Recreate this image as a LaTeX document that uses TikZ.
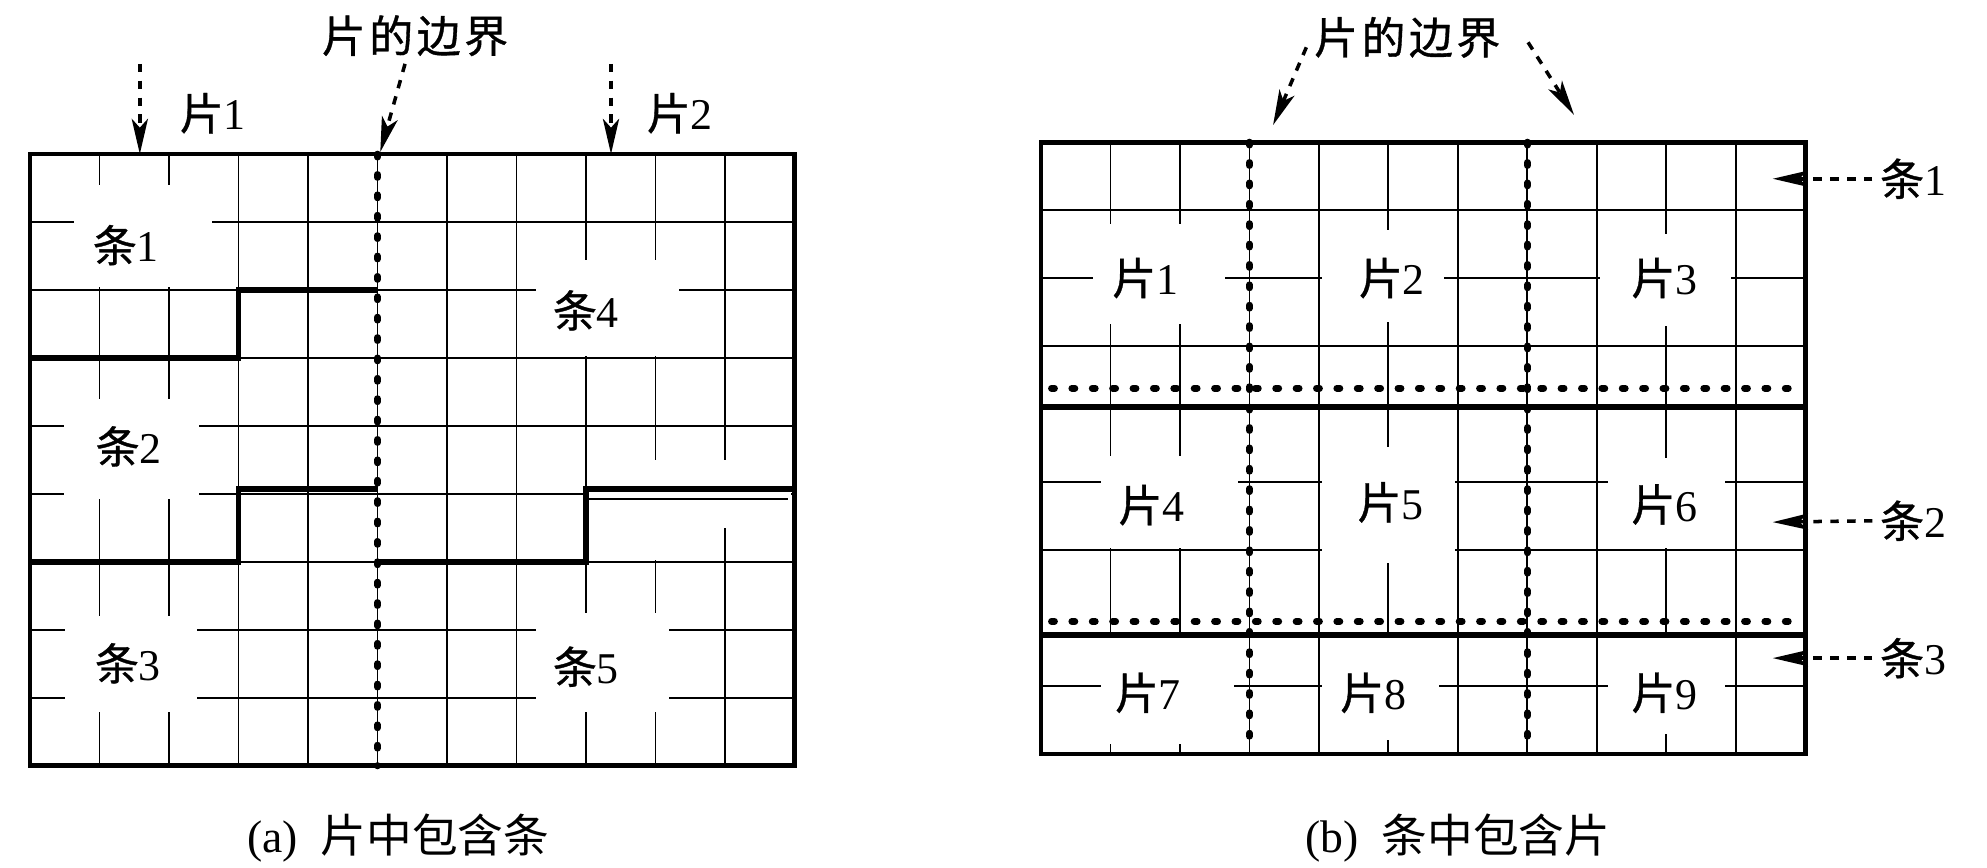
\documentclass[tikz,border=0pt]{standalone}
\usepackage{fontspec}
\setmainfont{Liberation Serif}
\newfontfamily\cjkfont[FakeBold=0.8]{Noto Sans CJK SC}
\newfontfamily\cjkwide[FakeBold=0.8, LetterSpace=8]{Noto Sans CJK SC}
\newfontfamily\cjkcap{Noto Sans CJK SC}
\usetikzlibrary{arrows.meta}
\newcommand{\zh}[1]{{\cjkfont #1}}

\begin{document}
\begin{tikzpicture}[
  x=0.695cm,
  y=-0.68cm,
  every node/.style={font=\fontsize{12.5}{15}\selectfont, inner sep=2pt},
  gridline/.style={line width=0.55pt},
  boxline/.style={line width=1.4pt},
  stripline/.style={line width=1.7pt},
  tilebound/.style={line width=1.9pt, line cap=round, dash pattern=on 0.9pt off 4.9pt},
  pointer/.style={line width=1pt, dash pattern=on 2.4pt off 2.4pt,
    -{Stealth[length=10pt, width=4.6pt, inset=2.5pt]}},
  capt/.style={font=\fontsize{13}{16}\selectfont}
]
  % ---- same page size as the scan -------------------------------------
  \useasboundingbox (-0.432,-2.265) rectangle (28.16,10.5);

  % ---- (a) strips inside tiles ------------------------------------------
  \foreach \c in {1,...,10} \draw[gridline] (\c,0) -- (\c,9);
  \foreach \r in {1,...,8} \draw[gridline] (0,\r) -- (11,\r);
  % blank patches round the labels
  \fill[white] (0.63,0.45) rectangle (2.62,1.95);
  \fill[white] (7.28,1.56) rectangle (9.34,2.97);
  \fill[white] (0.49,3.6) rectangle (2.43,5.08);
  \fill[white] (0.5,6.8) rectangle (2.4,8.2);
  \fill[white] (7.28,6.75) rectangle (9.2,8.2);
  \fill[white] (8.6,4.5) rectangle (9.4,5.97);
  \fill[white] (9.6,4.5) rectangle (10.4,5.5);
  \fill[white] (8.05,4.96) rectangle (10.95,5.03);
  \draw[gridline] (8,5.08) -- (10.9,5.08);

  % strip borders
  \draw[stripline] (0,3) -- (3,3) -- (3,2) -- (5,2);
  \draw[stripline] (0,6) -- (3,6) -- (3,4.92) -- (5,4.92);
  \draw[stripline] (5,6) -- (8,6) -- (8,4.92) -- (11,4.92);

  % tile border
  \draw[tilebound] (5,0) -- (5,9);
  \draw[boxline] (0,0) rectangle (11,9);

  \node (sa1) at (1.38,1.34) {\zh{条}1};
  \node (sa4) at (8.0,2.3) {\zh{条}4};
  \node (sa2) at (1.42,4.3) {\zh{条}2};
  \node (sa3) at (1.41,7.49) {\zh{条}3};
  \node (sa5) at (8.0,7.54) {\zh{条}5};

  \node (ta1) at (2.63,-0.6) {\zh{片}1};
  \node (ta2) at (9.35,-0.6) {\zh{片}2};
  \node (bnda) at (5.54,-1.74) {\cjkwide 片的边界};

  \coordinate (ta1tip) at (1.58,0);
  \coordinate (ta2tip) at (8.36,0);
  \coordinate (bndatip) at (5.04,-0.03);
  \draw[pointer] (ta1tip |- bnda.south) -- (ta1tip);
  \draw[pointer] (ta2tip |- bnda.south) -- (ta2tip);
  \draw[pointer] ([xshift=-0.1cm]bnda.south) -- (bndatip);

  \node[capt] (capa) at (5.3,10.06) {(a)\enspace{\cjkcap 片中包含条}};

  % ---- (b) tiles inside strips ------------------------------------------
  \begin{scope}[shift={(14.547,-0.176)}]
    \foreach \c in {1,...,10} \draw[gridline] (\c,0) -- (\c,9);
    \foreach \r in {1,2,3,5,6,8} \draw[gridline] (0,\r) -- (11,\r);
    % blank patches round the labels
    \fill[white] (0.75,1.21) rectangle (2.65,2.68);
    \fill[white] (4.05,1.3) rectangle (5.8,2.64);
    \fill[white] (8.05,1.35) rectangle (9.93,2.7);
    \fill[white] (0.86,4.62) rectangle (2.84,5.97);
    \fill[white] (4.04,4.48) rectangle (5.96,6.19);
    \fill[white] (8.16,4.65) rectangle (9.84,5.97);
    \fill[white] (0.86,7.3) rectangle (2.78,8.85);
    \fill[white] (4.04,7.3) rectangle (5.73,8.8);
    \fill[white] (8.16,7.3) rectangle (9.84,8.7);

    % strip borders
    \draw[stripline] (0,3.9) -- (11,3.9);
    \draw[stripline] (0,7.25) -- (11,7.25);

    % tile borders
    \draw[tilebound] (0.15,3.62) -- (10.85,3.62);
    \draw[tilebound] (0.15,7.05) -- (10.85,7.05);
    \draw[tilebound] (3,0) -- (3,8.82);
    \draw[tilebound] (7,0) -- (7,8.82);
    \draw[boxline] (0,0) rectangle (11,9);

    \node (tb1) at (1.5,2.0) {\zh{片}1};
    \node (tb2) at (5.05,2.0) {\zh{片}2};
    \node (tb3) at (8.97,2.0) {\zh{片}3};
    \node (tb4) at (1.59,5.34) {\zh{片}4};
    \node (tb5) at (5.03,5.3) {\zh{片}5};
    \node (tb6) at (8.97,5.33) {\zh{片}6};
    \node (tb7) at (1.54,8.1) {\zh{片}7};
    \node (tb8) at (4.78,8.1) {\zh{片}8};
    \node (tb9) at (8.97,8.1) {\zh{片}9};

    \node (sb1) at (12.55,0.54) {\zh{条}1};
    \node (sb2) at (12.55,5.57) {\zh{条}2};
    \node (sb3) at (12.55,7.59) {\zh{条}3};
    \coordinate (sb1tip) at (10.53,0.54);
    \coordinate (sb2tip) at (10.53,5.59);
    \coordinate (sb3tip) at (10.53,7.59);
    \draw[pointer] (sb1.west) -- (sb1tip);
    \draw[pointer] (sb2.west) -- (sb2tip);
    \draw[pointer] (sb3.west) -- (sb3tip);

    \node (bndb) at (5.27,-1.54) {\cjkwide 片的边界};
    \coordinate (bndbtipl) at (3.34,-0.25);
    \coordinate (bndbtipr) at (7.67,-0.4);
    \draw[pointer] ([yshift=-0.1cm]bndb.west) -- (bndbtipl);
    \draw[pointer] ([xshift=0.2cm,yshift=-0.05cm]bndb.east) -- (bndbtipr);

    \node[capt] (capb) at (6.0,10.24) {(b)\enspace{\cjkcap 条中包含片}};
  \end{scope}
\end{tikzpicture}
\end{document}
